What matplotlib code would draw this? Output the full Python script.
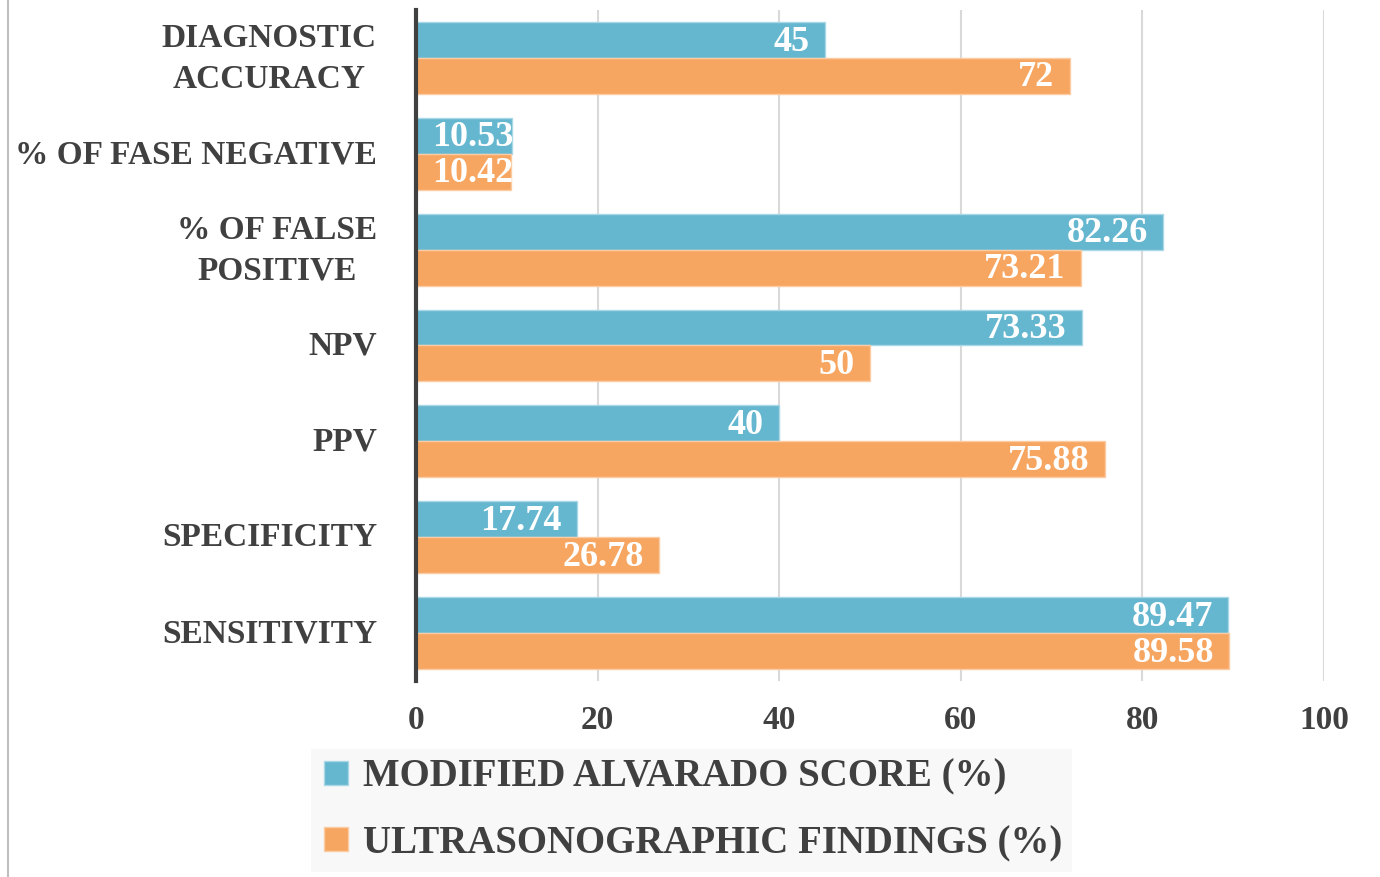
import matplotlib.pyplot as plt
import matplotlib.transforms as mtransforms
import numpy as np
from matplotlib.lines import Line2D

# categories from bottom to top, as drawn
categories = ["SENSITIVITY", "SPECIFICITY", "PPV", "NPV",
              "% OF FALSE\nPOSITIVE", "% OF FASE NEGATIVE", "DIAGNOSTIC\nACCURACY"]
alvarado = [89.47, 17.74, 40, 73.33, 82.26, 10.53, 45]
ultrasound = [89.58, 26.78, 75.88, 50, 73.21, 10.42, 72]
series_names = ["MODIFIED ALVARADO SCORE (%)", "ULTRASONOGRAPHIC FINDINGS (%)"]
x_ticks = [0, 20, 40, 60, 80, 100]

blue = "#65b6cf"
orange = "#f7a661"
dark = "#404040"
font = "Liberation Serif"

fig = plt.figure(figsize=(13.8, 8.77), dpi=100)
ax = fig.add_axes([0.3014, 0.2235, 0.658, 0.7651])

y = np.arange(len(categories))
h = 0.375
b1 = ax.barh(y + h / 2, alvarado, height=h, color=blue, edgecolor="#a9d7e5", linewidth=1, zorder=3)
b2 = ax.barh(y - h / 2, ultrasound, height=h, color=orange, edgecolor="#fbcca4", linewidth=1, zorder=3)

# value labels inside the bar ends (short bars: start near the axis instead)
for bars, vals in [(b1, alvarado), (b2, ultrasound)]:
    for bar, v in zip(bars, vals):
        yc = bar.get_y() + bar.get_height() / 2
        if v < 15:
            xy, off, ha = (0, yc), (12, -1.5), "left"
        else:
            xy, off, ha = (v, yc), (-11, -1.5), "right"
        ax.annotate(f"{v:g}", xy=xy, xytext=off, textcoords="offset points",
                    ha=ha, va="center", color="white",
                    fontsize=26, fontweight="bold", family=font, zorder=4)

ax.set_xlim(0, 100)
ax.set_ylim(-0.5, len(categories) - 0.5)
ax.set_xticks(x_ticks)
ax.set_yticks(y)
ax.set_yticklabels(categories, multialignment="center", linespacing=1.4)
ax.tick_params(axis="y", length=0, pad=28, labelsize=24, labelcolor=dark)
ax.tick_params(axis="x", length=0, pad=17, labelsize=24, labelcolor=dark)
for lbl in ax.get_xticklabels() + ax.get_yticklabels():
    lbl.set_fontweight("bold")
    lbl.set_family(font)

# nudge category labels up a little (two-line ones a bit more)
for lbl in ax.get_yticklabels():
    dy = 5 if "\n" in lbl.get_text() else 2
    lbl.set_transform(lbl.get_transform() + mtransforms.ScaledTranslation(0, dy / 72, fig.dpi_scale_trans))

ax.grid(axis="x", color="#d9d9d9", linewidth=1.5, zorder=0)
for s in ["top", "right", "bottom"]:
    ax.spines[s].set_visible(False)
ax.spines["left"].set_color(dark)
ax.spines["left"].set_linewidth(3)
ax.spines["left"].set_zorder(5)

# legend below the axis
handles = [Line2D([], [], marker="s", linestyle="none", markersize=17,
                  markerfacecolor=c, markeredgecolor=e)
           for c, e in [(blue, "#a9d7e5"), (orange, "#fbcca4")]]
leg = fig.legend(handles, series_names, loc="center", bbox_to_anchor=(0.501, 0.076),
                 frameon=True, facecolor="#f7f7f7", edgecolor="none", fancybox=False,
                 handlelength=0.8, handletextpad=0.3, labelspacing=0.75, borderpad=0.25,
                 prop={"family": font, "weight": "bold", "size": 28})
for t in leg.get_texts():
    t.set_color(dark)

# thin gray border on the left edge of the picture
fig.add_artist(Line2D([8 / 1380, 8 / 1380], [0, 1], color="#bfbfbf", linewidth=1.5))

fig.savefig("out.png", dpi=100)
